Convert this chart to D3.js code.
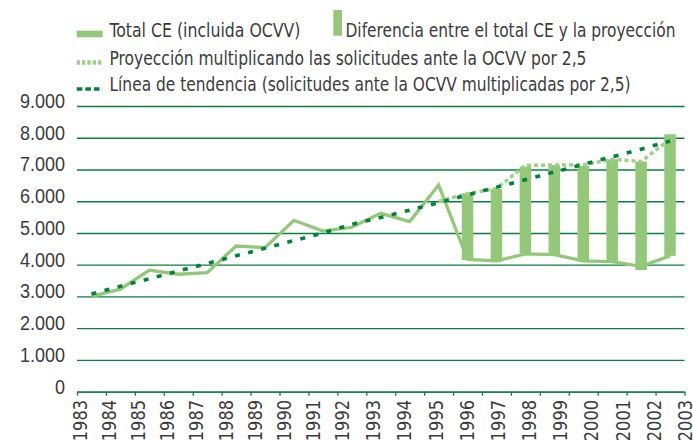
<!DOCTYPE html>
<html>
<head>
<meta charset="utf-8">
<script src="https://cdn.jsdelivr.net/npm/d3@7"></script>
<style>
  html, body { margin: 0; padding: 0; background: #fff; }
  svg { display: block; font-family: "Liberation Sans Narrow", "DejaVu Sans Condensed", "Liberation Sans", sans-serif; }
</style>
</head>
<body>
<div id="chart"></div>
<script>
// Datos
const years = d3.range(1983, 2004);
const yTicks = [0, 1000, 2000, 3000, 4000, 5000, 6000, 7000, 8000, 9000];

// Total CE (incluida OCVV)
const totalCE = [3000, 3230, 3830, 3700, 3750, 4590, 4540, 5400, 5060, 5180, 5620,
                 5360, 6510, 4170, 4120, 4340, 4320, 4120, 4100, 3950, 4280];

// Proyección (solicitudes OCVV x 2,5), desde 1995
const projYears = [1995, 1996, 1997, 1998, 1999, 2000, 2001, 2002, 2003];
const projection = [6000, 6240, 6400, 7130, 7140, 7150, 7320, 7250, 7950];

// Línea de tendencia
const trend = [3080, 3320, 3560, 3800, 4040, 4280, 4520, 4760, 5000, 5270, 5490,
               5720, 5950, 6200, 6440, 6680, 6920, 7160, 7400, 7640, 7900];

// Diferencia entre el total CE y la proyección (barras)
const barYears = [1996, 1997, 1998, 1999, 2000, 2001, 2002, 2003];
const barLow  = [4150, 4100, 4360, 4310, 4100, 4070, 3830, 4280];
const barHigh = [6250, 6390, 7090, 7140, 7110, 7320, 7250, 8110];

const legendItems = [
  { label: "Total CE (incluida OCVV)", kind: "line" },
  { label: "Diferencia entre el total CE y la proyección", kind: "bar" },
  { label: "Proyección multiplicando las solicitudes ante la OCVV por 2,5", kind: "dot" },
  { label: "Línea de tendencia (solicitudes ante la OCVV multiplicadas por 2,5)", kind: "dash" }
];

const W = 693, H = 441;
const LIGHT = "#93c879";
const DOT = "#9fd08a";
const DARK = "#00843d";
const GRID = "#0a7f3f";
const TEXT = "#3c3c3c";
const SQUEEZE = 0.9; // la fuente original es condensada

const svg = d3.select("#chart").append("svg")
  .attr("width", W).attr("height", H);

const x = d3.scaleBand().domain(years).range([77, 684.5]).padding(0);
const y = d3.scaleLinear().domain([0, 9000]).range([391.7, 106]);
const cx = d => x(d) + x.bandwidth() / 2;

// posiciones de las etiquetas de años (algo desplazadas respecto a las marcas)
const xLabel = d3.scaleLinear().domain([1983, 1992, 2003]).range([80, 342, 685]);

const fmt = d3.formatLocale({ decimal: ",", thousands: ".", grouping: [3], currency: ["", "€"] }).format(",");

function squeeze(sel, f) {
  sel.each(function () {
    const len = this.getComputedTextLength();
    d3.select(this).attr("textLength", len * f).attr("lengthAdjust", "spacingAndGlyphs");
  });
}

// Rejilla y eje Y
const yAxis = svg.append("g")
  .attr("transform", "translate(77,0)")
  .call(d3.axisLeft(y).tickValues(yTicks).tickSize(-607.5).tickPadding(12).tickFormat(fmt));
yAxis.select(".domain").remove();
yAxis.selectAll("line").attr("stroke", GRID).attr("stroke-width", 1.3);
yAxis.selectAll("text")
  .attr("dy", 1.5)
  .attr("fill", TEXT)
  .attr("font-size", 20)
  .style("font-family", "inherit")
  .call(squeeze, SQUEEZE);

// Eje X con marcas en los límites de cada categoría
const xb = d3.scaleLinear().domain([0, years.length]).range(x.range());
const xAxis = svg.append("g")
  .attr("transform", `translate(0,${y(0)})`)
  .call(d3.axisBottom(xb).tickValues(d3.range(years.length + 1)).tickSize(4).tickSizeOuter(0).tickFormat(""));
xAxis.select(".domain").attr("stroke", GRID).attr("stroke-width", 1.3);
xAxis.selectAll("line").attr("stroke", GRID).attr("stroke-width", 1.3);

svg.append("g").selectAll("text")
  .data(years)
  .join("text")
  .attr("transform", d => `translate(${xLabel(d) + 7},400) rotate(-90)`)
  .attr("text-anchor", "end")
  .attr("fill", TEXT)
  .attr("font-size", 20)
  .text(d => d)
  .call(squeeze, SQUEEZE);

// Barras de diferencia
const bw = 11.5;
svg.append("g").selectAll("rect")
  .data(barYears.map((yr, i) => ({ yr, lo: barLow[i], hi: barHigh[i] })))
  .join("rect")
  .attr("x", d => cx(d.yr) - bw / 2)
  .attr("width", bw)
  .attr("y", d => y(d.hi))
  .attr("height", d => y(d.lo) - y(d.hi))
  .attr("fill", LIGHT);

// Total CE
svg.append("path")
  .datum(years.map((yr, i) => [cx(yr), y(totalCE[i])]))
  .attr("d", d3.line())
  .attr("fill", "none")
  .attr("stroke", LIGHT)
  .attr("stroke-width", 3.3)
  .attr("stroke-linejoin", "miter");

// Proyección
svg.append("path")
  .datum(projYears.map((yr, i) => [cx(yr), y(projection[i])]))
  .attr("d", d3.line())
  .attr("fill", "none")
  .attr("stroke", DOT)
  .attr("stroke-width", 3.5)
  .attr("stroke-dasharray", "4 3");

// Tendencia
svg.append("path")
  .datum(years.map((yr, i) => [cx(yr), y(trend[i])]))
  .attr("d", d3.line())
  .attr("fill", "none")
  .attr("stroke", DARK)
  .attr("stroke-width", 3.6)
  .attr("stroke-dasharray", "5 8.5");

// Leyenda (anchos del texto medidos en la imagen)
const lg = svg.append("g").attr("fill", TEXT).attr("font-size", 19.5);
const rows = [
  { item: legendItems[0], sx: 76.7, tx: 109.5, base: 37.3, w: 191 },
  { item: legendItems[1], sx: 333.3, tx: 345.5, base: 37.3, w: 330 },
  { item: legendItems[2], sx: 76.7, tx: 109.5, base: 65, w: 477 },
  { item: legendItems[3], sx: 76.7, tx: 109.5, base: 90.5, w: 521 }
];
rows.forEach(r => {
  const k = r.item.kind;
  if (k === "line") {
    lg.append("rect").attr("x", r.sx).attr("y", 30.7).attr("width", 26).attr("height", 6.6).attr("fill", LIGHT);
  } else if (k === "bar") {
    lg.append("rect").attr("x", r.sx).attr("y", 10).attr("width", 8.7).attr("height", 25.7).attr("fill", LIGHT);
  } else if (k === "dot") {
    lg.append("line").attr("x1", r.sx).attr("x2", r.sx + 26).attr("y1", 62.5).attr("y2", 62.5)
      .attr("stroke", DOT).attr("stroke-width", 4.5).attr("stroke-dasharray", "3.4 1.9");
  } else {
    lg.append("line").attr("x1", r.sx).attr("x2", r.sx + 26).attr("y1", 89).attr("y2", 89)
      .attr("stroke", DARK).attr("stroke-width", 3.4).attr("stroke-dasharray", "5.6 3");
  }
  lg.append("text").attr("x", r.tx).attr("y", r.base)
    .attr("textLength", r.w).attr("lengthAdjust", "spacingAndGlyphs")
    .text(r.item.label);
});
</script>
</body>
</html>
